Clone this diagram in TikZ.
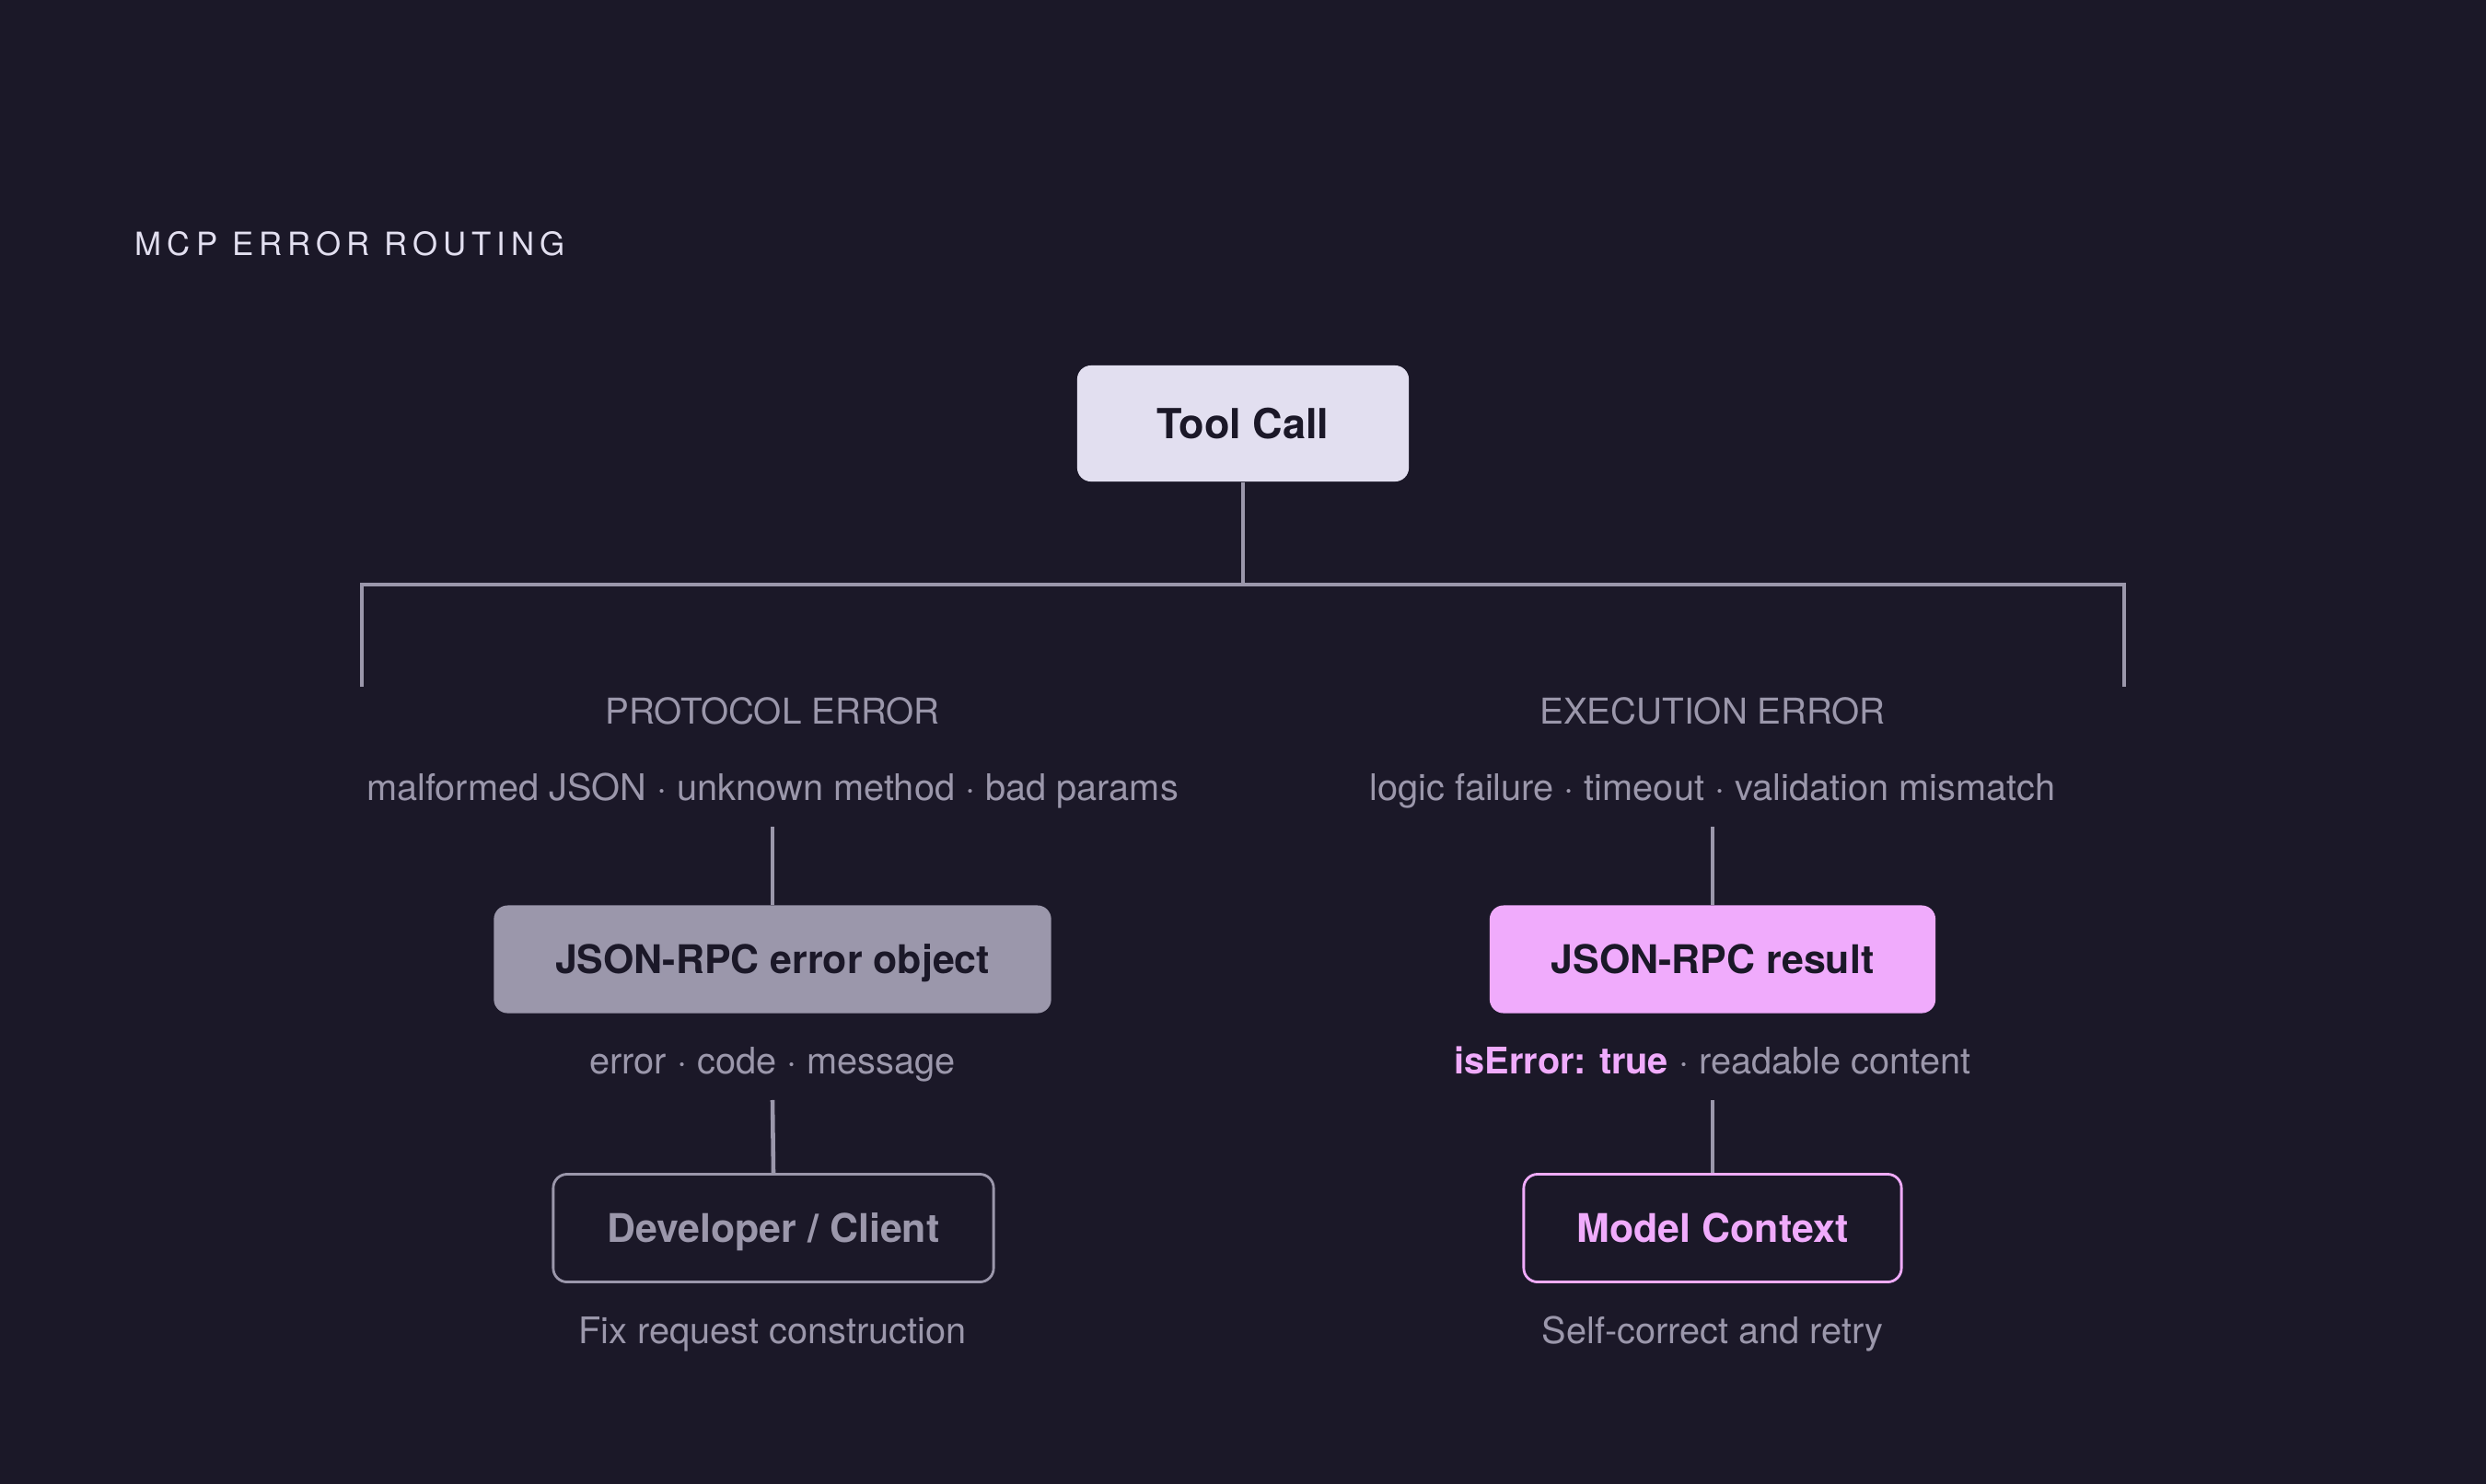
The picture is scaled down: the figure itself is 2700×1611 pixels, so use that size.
\documentclass[tikz,border=0pt]{standalone}
\usepackage{fontspec}
\setmainfont{TeX Gyre Heros}
\newfontfamily\spacedfont[LetterSpace=17.5]{TeX Gyre Heros}
\definecolor{bgcolor}{RGB}{27,24,40}
\definecolor{inkcolor}{RGB}{27,24,40}
\definecolor{lavender}{RGB}{226,223,240}
\definecolor{mutedcolor}{RGB}{155,151,171}
\definecolor{pinkcolor}{RGB}{240,171,252}

\begin{document}
\begin{tikzpicture}[x=0.01cm, y=-0.01cm,
    line/.style={mutedcolor, line width=1.3pt},
    box/.style={rounded corners=0.15cm, minimum height=1.17cm, inner sep=0pt,
        font=\fontsize{12.2}{14}\selectfont\bfseries, text height=8.75pt, text depth=0pt},
    subtext/.style={font=\fontsize{11.3}{13}\selectfont, text=mutedcolor,
        inner xsep=0pt, inner ysep=0.28cm, text height=8.1pt, text depth=0pt},
    heading/.style={font=\fontsize{11}{13}\selectfont, text=mutedcolor,
        inner sep=0pt, text height=7.9pt, text depth=0pt}]
    \useasboundingbox (0,0) rectangle (2700,1611);
    \fill[bgcolor] (-10,-10) rectangle (2710,1621);
    \node[anchor=west, inner sep=0pt, text=lavender, font=\spacedfont\fontsize{9.9}{12}\selectfont,
        text height=7.1pt, text depth=0pt] (title) at (146,265) {MCP ERROR ROUTING};
    % root and branch bar
    \node[box, fill=lavender, text=inkcolor, minimum width=3.6cm, minimum height=1.26cm,
        font=\fontsize{12.8}{15}\selectfont\bfseries, text height=9.2pt] (toolcall) at (1350,460) {Tool Call};
    \coordinate (stem) at (1350,635);
    \coordinate (barL) at (393,635);
    \coordinate (barR) at (2307,635);
    \coordinate (dropL) at (393,746);
    \coordinate (dropR) at (2307,746);
    \draw[line] (toolcall.south) -- (stem);
    \draw[line] (dropL) -- (barL) -- (barR) -- (dropR);
    % protocol side
    \node[heading] (protohead) at (839,773) {PROTOCOL ERROR};
    \node[subtext] (protodesc) at (839,855) {malformed JSON · unknown method · bad params};
    \node[box, fill=mutedcolor, text=inkcolor, minimum width=6.05cm] (errobj) at (839,1042) {JSON-RPC error object};
    \node[subtext] (errfields) at (839,1152) {error · code · message};
    \node[box, draw=mutedcolor, line width=0.8pt, text=mutedcolor, minimum width=4.78cm] (devclient) at (840,1334) {Developer / Client};
    \node[subtext] (devaction) at (839,1445) {Fix request construction};
    % execution side
    \node[heading] (exechead) at (1860,773) {EXECUTION ERROR};
    \node[subtext] (execdesc) at (1860,855) {logic failure · timeout · validation mismatch};
    \node[box, fill=pinkcolor, text=inkcolor, minimum width=4.84cm] (rpcresult) at (1860,1042) {JSON-RPC result};
    \node[subtext] (resfields) at (1860,1152) {{\bfseries\color{pinkcolor}isError: true} · readable content};
    \node[box, draw=pinkcolor, line width=0.8pt, text=pinkcolor, minimum width=4.1cm] (modelctx) at (1860,1334) {Model Context};
    \node[subtext] (modelaction) at (1860,1445) {Self-correct and retry};
    \draw[line] (protodesc.south) -- (errobj.north);
    \draw[line] (errfields.south) -- (devclient.north);
    \draw[line] (execdesc.south) -- (rpcresult.north);
    \draw[line] (resfields.south) -- (modelctx.north);
\end{tikzpicture}
\end{document}
